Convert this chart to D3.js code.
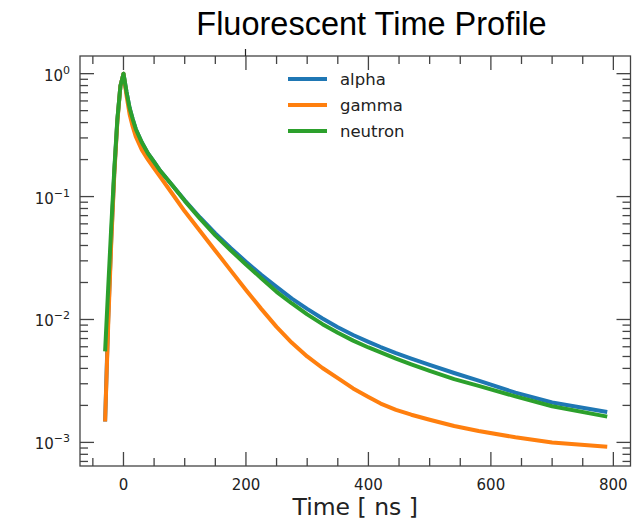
<!DOCTYPE html>
<html><head><meta charset="utf-8">
<script src="https://cdn.jsdelivr.net/npm/d3@7"></script>
<style>body{margin:0;background:#fff}svg{display:block}</style>
</head><body>
<svg id="c" width="644" height="521"></svg>
<script>
const times   = [-30,-25,-20,-15,-10,-5,0,5,10,15,20,30,40,50,60,80,100,125,150,175,200,225,250,275,300,325,350,375,400,420,445,470,500,540,580,640,700,790];
const alpha   = [0.00148,0.0100,0.0447,0.158,0.417,0.794,1,0.708,0.525,0.427,0.355,0.275,0.224,0.191,0.162,0.123,0.0933,0.0676,0.0501,0.0382,0.0295,0.0231,0.0184,0.0148,0.0122,0.0102,0.00865,0.00748,0.00658,0.00597,0.00533,0.00481,0.00427,0.00367,0.00318,0.00254,0.00211,0.00177];
const gamma   = [0.00148,0.00891,0.0417,0.151,0.407,0.794,1,0.661,0.468,0.372,0.309,0.240,0.200,0.170,0.145,0.105,0.0759,0.0525,0.0363,0.0251,0.0174,0.0122,0.00871,0.00646,0.00501,0.00403,0.00333,0.00275,0.00234,0.00207,0.00184,0.00168,0.00153,0.00136,0.00124,0.00110,0.00100,0.000920];
const neutron = [0.00550,0.0178,0.0562,0.166,0.427,0.794,1,0.708,0.525,0.427,0.355,0.275,0.224,0.191,0.162,0.123,0.0923,0.0661,0.0484,0.0366,0.0280,0.0217,0.0168,0.0135,0.0110,0.00916,0.00780,0.00673,0.00592,0.00540,0.00481,0.00432,0.00382,0.00327,0.00288,0.00237,0.00197,0.00162];
const seriesNames = ["alpha","gamma","neutron"];
const seriesColors = ["#1f77b4","#ff7f0e","#2ca02c"];
const xTicks = [0,200,400,600,800];
const xMinorTicks = [-50,50,100,150,250,300,350,450,500,550,650,700,750];
const yTickExps = [0,-1,-2,-3];
const titleText = "Fluorescent Time Profile";
const xLabel = "Time [ ns ]";

const svg = d3.select("#c");
const L=80, R=630.5, T=56, B=466;
const x = d3.scaleLinear().domain([-71, 828]).range([L, R]);
const y = d3.scaleLog().domain([Math.pow(10,-3.192), Math.pow(10,0.1437)]).range([B, T]);

// title
svg.append("text").attr("x", 371.5).attr("y", 35).attr("text-anchor","middle")
  .attr("font-family","Liberation Sans, Arial, sans-serif").attr("font-size",32.5)
  .attr("fill","#000").text(titleText);

// series
const data = [alpha, gamma, neutron];
const line = d3.line().x(d=>x(d[0])).y(d=>y(d[1]));
svg.append("clipPath").attr("id","cp").append("rect")
  .attr("x",L).attr("y",T).attr("width",R-L).attr("height",B-T);
data.forEach((vals,i)=>{
  svg.append("path").attr("clip-path","url(#cp)")
    .attr("d", line(times.map((t,j)=>[t, vals[j]])))
    .attr("fill","none").attr("stroke",seriesColors[i]).attr("stroke-width",4)
    .attr("stroke-linejoin","round").attr("stroke-linecap","butt");
});

// frame
const axCol = "#444";
svg.append("rect").attr("x",L).attr("y",T).attr("width",R-L).attr("height",B-T)
  .attr("fill","none").attr("stroke",axCol).attr("stroke-width",1.3);

const MAJ=14, MIN=8;
const tk = svg.append("g").attr("stroke",axCol).attr("stroke-width",1.3);
xTicks.forEach(v=>{
  tk.append("line").attr("x1",x(v)).attr("x2",x(v)).attr("y1",B).attr("y2",B-MAJ);
  tk.append("line").attr("x1",x(v)).attr("x2",x(v)).attr("y1",T).attr("y2",T+MAJ);
});
xMinorTicks.forEach(v=>{
  tk.append("line").attr("x1",x(v)).attr("x2",x(v)).attr("y1",B).attr("y2",B-MIN);
  tk.append("line").attr("x1",x(v)).attr("x2",x(v)).attr("y1",T).attr("y2",T+MIN);
});
const [ylo, yhi] = y.domain();
for (let e=-4; e<=0; e++){
  for (let m=1; m<=9; m++){
    const v = m*Math.pow(10,e);
    if (v<ylo || v>yhi) continue;
    const len = m===1?MAJ:MIN;
    tk.append("line").attr("x1",L).attr("x2",L+len).attr("y1",y(v)).attr("y2",y(v));
    tk.append("line").attr("x1",R).attr("x2",R-len).attr("y1",y(v)).attr("y2",y(v));
  }
}
// small stray mark above top axis
svg.append("line").attr("x1",245.5).attr("x2",245.5).attr("y1",49).attr("y2",T)
  .attr("stroke","#222").attr("stroke-width",1.2);

// x tick labels
const fam = "DejaVu Sans, sans-serif";
xTicks.forEach(v=>{
  svg.append("text").attr("x",x(v)).attr("y",490).attr("text-anchor","middle")
    .attr("font-family",fam).attr("font-size",15).attr("fill","#222").text(v);
});
// y tick labels
yTickExps.forEach(e=>{
  const t = svg.append("text").attr("x",70).attr("y",y(Math.pow(10,e))+7)
    .attr("text-anchor","end").attr("font-family",fam).attr("font-size",15).attr("fill","#222");
  t.append("tspan").text("10");
  t.append("tspan").attr("dy",-7).attr("font-size",11).text(e===0?"0":"\u2212"+Math.abs(e));
});
// x label
svg.append("text").attr("x",(L+R)/2).attr("y",515).attr("text-anchor","middle")
  .attr("font-family",fam).attr("font-size",23.5).attr("fill","#222").text(xLabel);

// legend
const lg = svg.append("g");
seriesNames.forEach((n,i)=>{
  const ly = 79 + i*26;
  lg.append("line").attr("x1",288).attr("x2",327).attr("y1",ly).attr("y2",ly)
    .attr("stroke",seriesColors[i]).attr("stroke-width",4);
  lg.append("text").attr("x",340).attr("y",ly).attr("dominant-baseline","central")
    .attr("font-family",fam).attr("font-size",16.5).attr("fill","#222").text(n);
});
</script>
</body></html>
